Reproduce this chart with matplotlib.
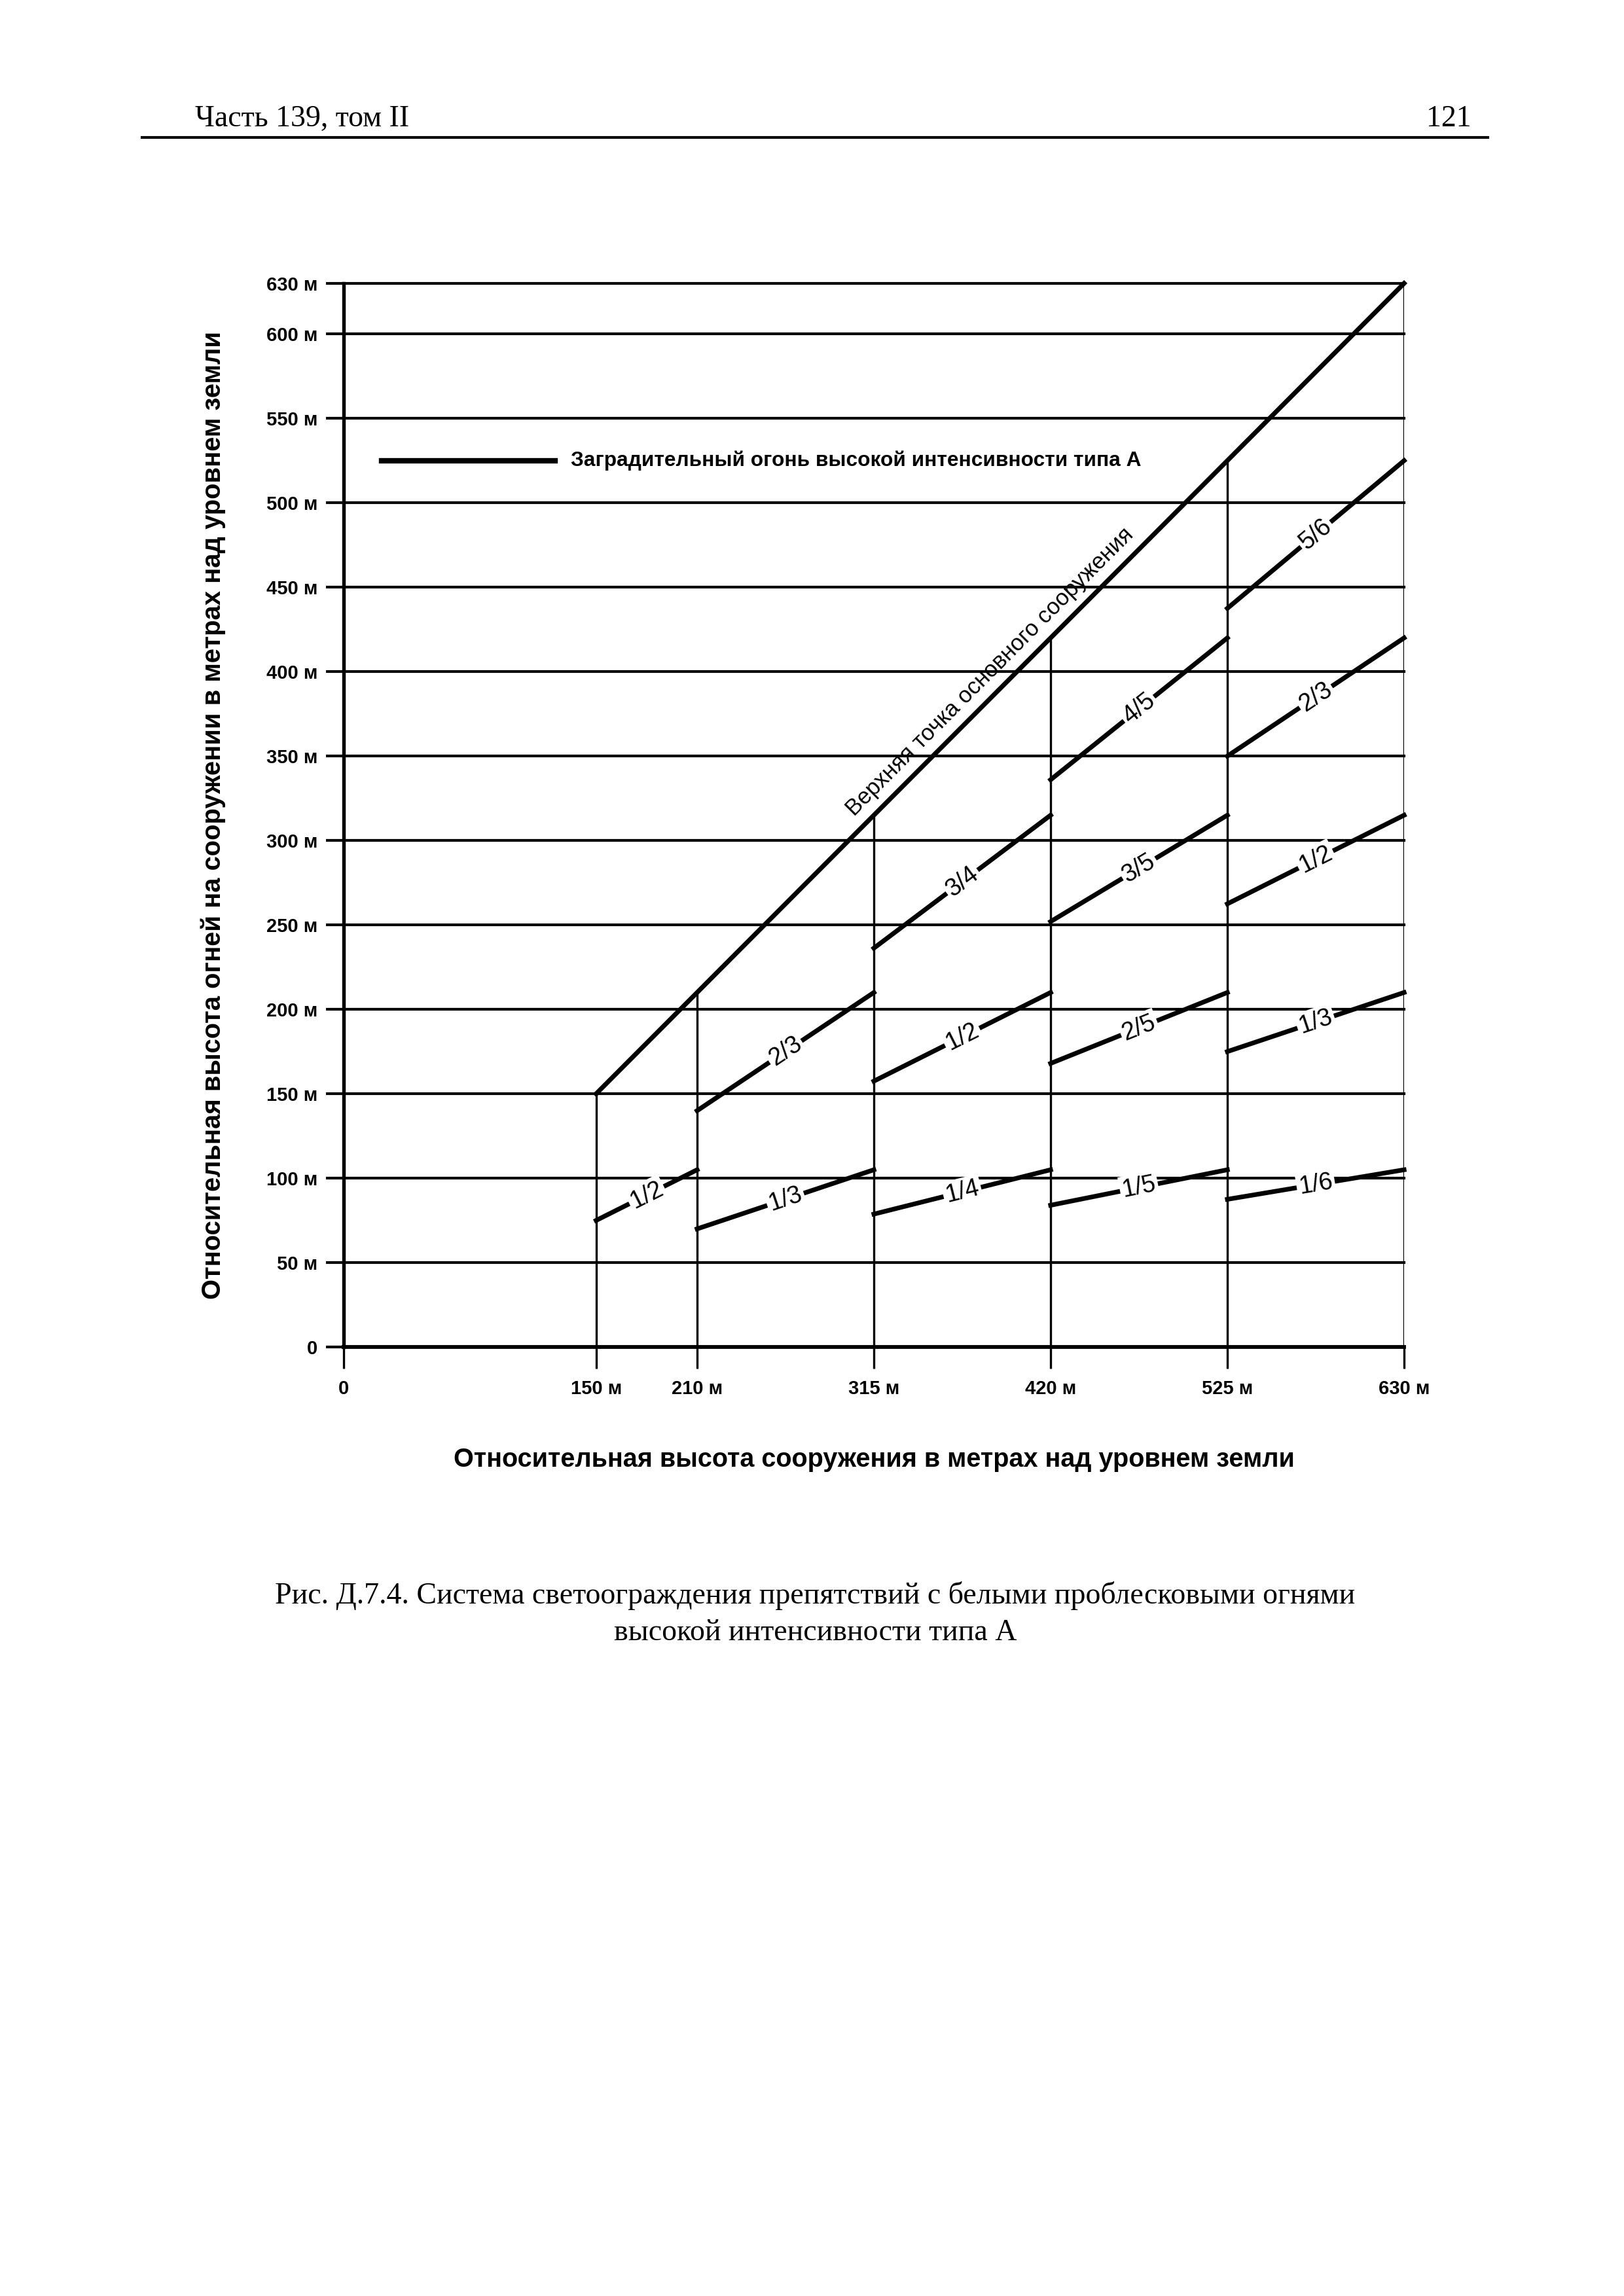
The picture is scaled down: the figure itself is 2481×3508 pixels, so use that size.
import numpy as np
import matplotlib
matplotlib.use("Agg")
import matplotlib.pyplot as plt
import matplotlib.transforms as mtransforms
from matplotlib.lines import Line2D

# structure height segments, m
seg_start = [150, 210, 315, 420, 525]
seg_end = [210, 315, 420, 525, 630]

# light heights at the start / end of every segment, m
light_lo = [[75], [70, 140], [78.75, 157.5, 236.25],
            [84, 168, 252, 336], [87.5, 175, 262.5, 350, 437.5]]
light_hi = [[105], [105, 210], [105, 210, 315],
            [105, 210, 315, 420], [105, 210, 315, 420, 525]]
light_lbl = [["1/2"], ["1/3", "2/3"], ["1/4", "1/2", "3/4"],
             ["1/5", "2/5", "3/5", "4/5"], ["1/6", "1/3", "1/2", "2/3", "5/6"]]

# top of the structure
top_x = [150, 630]
top_y = [150, 630]

yticks = [0, 50, 100, 150, 200, 250, 300, 350, 400, 450, 500, 550, 600, 630]
ytick_lbl = ["0"] + ["%d м" % v for v in yticks[1:]]
xticks = [0, 150, 210, 315, 420, 525, 630]
xtick_lbl = ["0"] + ["%d м" % v for v in xticks[1:]]

sans = ["Liberation Sans", "DejaVu Sans"]
narrow = ["Liberation Sans Narrow", "Liberation Sans", "DejaVu Sans"]
serif = ["Liberation Serif", "DejaVu Serif"]

fig = plt.figure(figsize=(2481 / 300, 3508 / 300), dpi=300)

# page header
fig.text(0.120, 0.945, "Часть 139, том II", family=serif, fontsize=11, va="baseline")
fig.text(0.906, 0.945, "121", family=serif, fontsize=11, va="baseline", ha="right")
fig.add_artist(Line2D([0.0875, 0.916], [0.940, 0.940], color="black", lw=1.0))

ax = fig.add_axes([0.2116, 0.4133, 0.653, 0.4633])
ax.set_xlim(0, 630)
ax.set_ylim(0, 630)
for side in ["top", "right", "bottom"]:
    ax.spines[side].set_visible(False)
ax.spines["left"].set_linewidth(1.3)

# horizontal grid
for y in yticks:
    ax.axhline(y, color="black", lw=1.0 if y else 1.4, zorder=1, clip_on=False)

# segment boundaries
ax.vlines([150] + seg_end, 0, [150] + seg_end, color="black", lw=0.8, zorder=1)

# top of the main structure
ax.plot(top_x, top_y, color="black", lw=1.7, clip_on=False, zorder=3)

for s, e, los, his, lbls in zip(seg_start, seg_end, light_lo, light_hi, light_lbl):
    for lo, hi, lb in zip(los, his, lbls):
        ax.plot([s, e], [lo, hi], color="black", lw=1.7, clip_on=False, zorder=3)
        ang = np.degrees(np.arctan2(hi - lo, e - s))
        ax.text((s + e) / 2, (lo + hi) / 2, lb, rotation=ang,
                transform_rotates_text=True, rotation_mode="anchor",
                ha="center", va="center", family=narrow, fontsize=9,
                zorder=4, bbox=dict(fc="white", ec="none", pad=0.8))

# label of the top line, shifted above it
off = mtransforms.ScaledTranslation(-7 / 72 * 0.707, 7 / 72 * 0.707, fig.dpi_scale_trans)
ax.text(392, 392, "Верхняя точка основного сооружения", rotation=45,
        transform_rotates_text=True, rotation_mode="anchor",
        ha="center", va="center", family=sans, fontsize=8.3,
        transform=ax.transData + off, zorder=4)

# legend
ax.plot([22.5, 125.5], [525, 525], color="black", lw=2.0)
ax.text(135, 525, "Заградительный огонь высокой интенсивности типа А",
        va="center", ha="left", family=sans, fontsize=7.6, fontweight="bold")

ax.set_yticks(yticks)
ax.set_yticklabels(ytick_lbl, family=sans, fontsize=7, fontweight="bold")
ax.set_xticks(xticks)
ax.set_xticklabels(xtick_lbl, family=sans, fontsize=7, fontweight="bold")
ax.tick_params(axis="y", length=6.5, width=1.0, pad=3)
ax.tick_params(axis="x", length=8, width=0.8, pad=4)

ax.set_xlabel("Относительная высота сооружения в метрах над уровнем земли",
              family=sans, fontsize=9.5, fontweight="bold", labelpad=18)
ax.set_ylabel("Относительная высота огней на сооружении в метрах над уровнем земли",
              family=sans, fontsize=9.6, fontweight="bold", labelpad=15)

# caption
fig.text(0.502, 0.3016, "Рис. Д.7.4. Система светоограждения препятствий с белыми проблесковыми огнями",
         family=serif, fontsize=11, ha="center", va="baseline")
fig.text(0.502, 0.2857, "высокой интенсивности типа А",
         family=serif, fontsize=11, ha="center", va="baseline")

fig.savefig("out.png", dpi=300, facecolor="white")
